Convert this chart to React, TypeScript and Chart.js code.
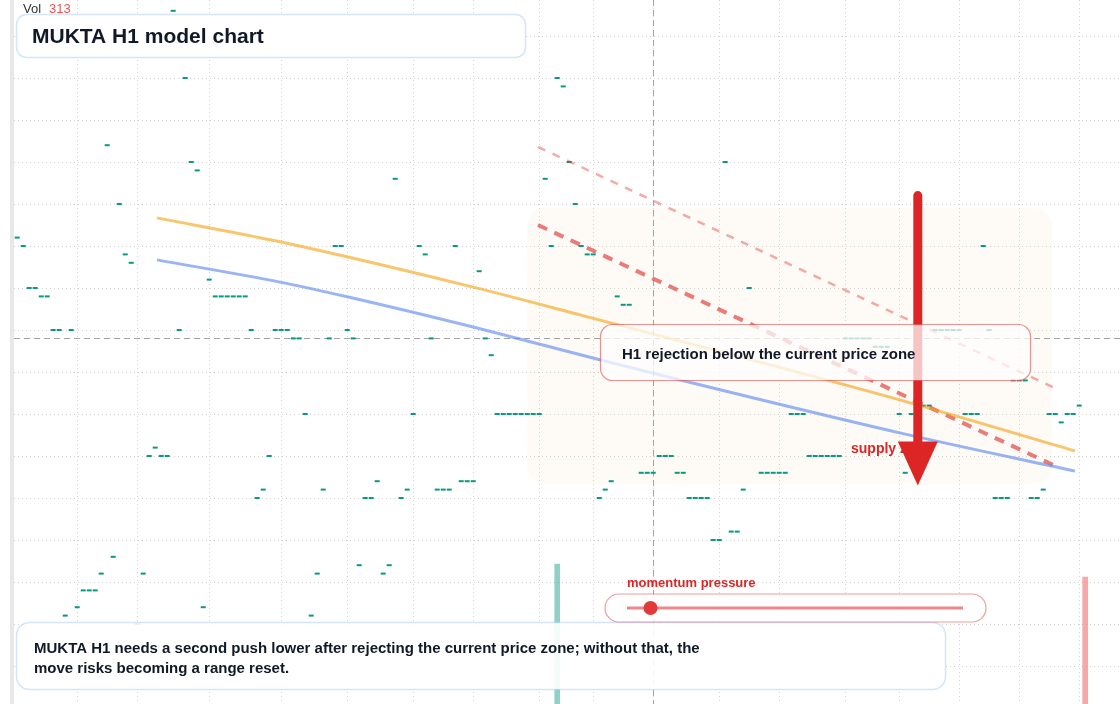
import React, { useEffect, useRef } from "react";
import { Chart, registerables } from "chart.js";

Chart.register(...registerables);

// ---------------- data ----------------
const TITLE = "MUKTA H1 model chart";
const REJECTION_TEXT = "H1 rejection below the current price zone";
const NOTE_LINES = [
  "MUKTA H1 needs a second push lower after rejecting the current price zone; without that, the",
  "move risks becoming a range reset.",
];
const ZONE_LABEL = "supply zone";
const MOMENTUM_LABEL = "momentum pressure";
const VOL_LABEL = "Vol";
const LAST_VOLUME = 313;

// candle index of the first body, then one flat body level per hourly candle
const CANDLE_START = 14;
const candleLevels: (number | null)[] = [
  15.2, 15.0, 14.0, 14.0, 13.8, 13.8, 13.0, 13.0, 6.2, 13.0,
  6.4, 6.8, 6.8, 6.8, 7.2, 17.4, 7.6, 16.0, 14.8, 14.6,
  6.0, 7.2, 10.0, 10.2, 10.0, 10.0, 20.6, 13.0, 19.0, 17.0,
  16.8, 6.4, 14.2, 13.8, 13.8, 13.8, 13.8, 13.8, 13.8, 13.0,
  9.0, 9.2, 10.0, 13.0, 13.0, 13.0, 12.8, 12.8, 11.0, 6.2,
  7.2, 9.2, 12.8, 15.0, 15.0, 13.0, 12.8, 7.4, 9.0, 9.0,
  9.4, 7.2, 7.4, 16.6, 9.0, 9.2, 11.0, 15.0, 14.8, 12.8,
  9.2, 9.2, 9.2, 15.0, 9.4, 9.4, 9.4, 14.4, 12.8, 12.4,
  11.0, 11.0, 11.0, 11.0, 11.0, 11.0, 11.0, 11.0, 16.6, 15.0,
  19.0, 18.8, 17.0, 16.0, 15.0, 14.8, 14.8, 9.0, 9.2, 9.4,
  13.8, 13.6, 13.6, null, 9.6, 9.6, 9.6, 10.0, 10.0, 10.0,
  9.6, 9.6, 9.0, 9.0, 9.0, 9.0, 8.0, 8.0, 17.0, 8.2,
  8.2, 9.2, 14.0, null, 9.6, 9.6, 9.6, 9.6, 9.6, 11.0,
  11.0, 11.0, 10.0, 10.0, 10.0, 10.0, 10.0, 10.0, 12.8, 12.8,
  12.8, 12.8, 12.8, 12.6, 12.6, 12.6, null, 11.0, 9.6, 11.0,
  null, 11.2, 11.2, 13.0, 13.0, 13.0, 13.0, 13.0, 11.0, 11.0,
  11.0, 15.0, 13.0, 9.0, 9.0, 9.0, 11.8, 11.8, 11.8, 9.0,
  9.0, 9.2, 11.0, 11.0, 10.8, 11.0, 11.0, 11.2,
];

const xGridTicks = [24, 34, 46, 58, 69, 80, 90, 101, 110, 120, 131, 141, 152, 161, 171, 181, 191];
const yGridTicks = [5, 6, 7, 8, 9, 10, 11, 12, 13, 14, 15, 16, 17, 18, 19, 20];

const fastX = [37.3, 57.8, 90, 107.8, 163, 190.3];
const fastY = [15.67, 15.1, 14.02, 13.36, 11.26, 10.12];
const slowX = [37.3, 57.8, 69, 90, 110.6, 124.5, 161.1, 190.3];
const slowY = [14.67, 14.14, 13.79, 13.07, 12.31, 11.81, 10.55, 9.64];

const channelX = [100.8, 186.6];
const channelLower = [15.5, 9.79];
const channelUpper = [17.36, 11.64];

const volumeX = [104, 192];
const volumeValues = [345, 313];
const volumeUp = [true, false];

const currentIndex = 120;
const currentPrice = 12.8;

const zoneX = [99, 186.5];
const zoneY = [9.33, 15.9];
const arrowX = 164.1;
const arrowY = [16.2, 9.3];
const momentumPressure = 0.07;

// ---------------- style / layout ----------------
const W = 1120;
const H = 704;
const PLOT_LEFT = 14;
const PX_PER_CANDLE = 6;
const CROSS_PX = 653.2;
const X_MIN = currentIndex - (CROSS_PX - PLOT_LEFT) / PX_PER_CANDLE;
const X_MAX = X_MIN + (W - PLOT_LEFT) / PX_PER_CANDLE;
const Y_MAX = 20 + 36 / 42;
const Y_MIN = 20 - 668 / 42;
const VOL_MAX = (LAST_VOLUME * H) / 127;

const FONT = '"Liberation Sans", Arial, Helvetica, sans-serif';
const DARK = "#111827";
const RED = "#dc2626";
const TEAL = "#089981";

function rr(ctx: CanvasRenderingContext2D, x: number, y: number, w: number, h: number, r: number) {
  ctx.beginPath();
  ctx.moveTo(x + r, y);
  ctx.lineTo(x + w - r, y);
  ctx.arcTo(x + w, y, x + w, y + r, r);
  ctx.lineTo(x + w, y + h - r);
  ctx.arcTo(x + w, y + h, x + w - r, y + h, r);
  ctx.lineTo(x + r, y + h);
  ctx.arcTo(x, y + h, x, y + h - r, r);
  ctx.lineTo(x, y + r);
  ctx.arcTo(x, y, x + r, y, r);
  ctx.closePath();
}

const overlayPlugin = {
  id: "overlay",
  beforeDatasetsDraw(chart: any) {
    const { ctx, chartArea } = chart;
    const xs = chart.scales.x;
    const ys = chart.scales.y;
    ctx.save();
    ctx.fillStyle = "#e8e8e8";
    ctx.fillRect(10, 0, 4, H);

    ctx.strokeStyle = "#d2d2d2";
    ctx.lineWidth = 1;
    ctx.setLineDash([1, 3]);
    for (const t of yGridTicks) {
      const py = Math.round(ys.getPixelForValue(t)) + 0.5;
      ctx.beginPath();
      ctx.moveTo(chartArea.left, py);
      ctx.lineTo(chartArea.right, py);
      ctx.stroke();
    }
    for (const t of xGridTicks) {
      const px = Math.round(xs.getPixelForValue(t)) + 0.5;
      ctx.beginPath();
      ctx.moveTo(px, 0);
      ctx.lineTo(px, H);
      ctx.stroke();
    }

    // supply zone
    const zx0 = xs.getPixelForValue(zoneX[0]);
    const zx1 = xs.getPixelForValue(zoneX[1]);
    const zy0 = ys.getPixelForValue(zoneY[1]);
    const zy1 = ys.getPixelForValue(zoneY[0]);
    ctx.setLineDash([]);
    ctx.fillStyle = "rgba(240, 200, 160, 0.09)";
    rr(ctx, zx0, zy0, zx1 - zx0, zy1 - zy0, 18);
    ctx.fill();

    // crosshair
    ctx.strokeStyle = "#a3a3a3";
    ctx.setLineDash([6, 4]);
    const cx = Math.round(xs.getPixelForValue(currentIndex)) + 0.5;
    const cy = Math.round(ys.getPixelForValue(currentPrice)) + 0.5;
    ctx.beginPath();
    ctx.moveTo(cx, 0);
    ctx.lineTo(cx, H);
    ctx.stroke();
    ctx.beginPath();
    ctx.moveTo(chartArea.left, cy);
    ctx.lineTo(chartArea.right, cy);
    ctx.stroke();
    ctx.restore();
  },
  afterDatasetsDraw(chart: any) {
    const { ctx } = chart;
    const xs = chart.scales.x;
    const ys = chart.scales.y;
    ctx.save();
    ctx.setLineDash([]);
    ctx.textAlign = "left";
    ctx.textBaseline = "middle";

    // zone label
    ctx.fillStyle = RED;
    ctx.font = `bold 14px ${FONT}`;
    ctx.fillText(ZONE_LABEL, 851, 449);

    // arrow
    const ax = xs.getPixelForValue(arrowX);
    const aTop = ys.getPixelForValue(arrowY[0]);
    const aTip = ys.getPixelForValue(arrowY[1]);
    const headLen = 44;
    ctx.strokeStyle = RED;
    ctx.lineWidth = 9;
    ctx.lineCap = "round";
    ctx.beginPath();
    ctx.moveTo(ax, aTop);
    ctx.lineTo(ax, aTip - headLen + 4);
    ctx.stroke();
    ctx.lineCap = "butt";
    ctx.fillStyle = RED;
    ctx.beginPath();
    ctx.moveTo(ax - 20, aTip - headLen);
    ctx.lineTo(ax + 20, aTip - headLen);
    ctx.lineTo(ax, aTip);
    ctx.closePath();
    ctx.fill();

    // rejection box
    rr(ctx, 600.5, 324.5, 430, 56, 12);
    ctx.fillStyle = "rgba(255,255,255,0.73)";
    ctx.fill();
    ctx.strokeStyle = "rgba(220,38,38,0.5)";
    ctx.lineWidth = 1.2;
    ctx.stroke();
    ctx.fillStyle = DARK;
    ctx.font = `bold 15px ${FONT}`;
    ctx.fillText(REJECTION_TEXT, 622, 354.5);

    // title box
    rr(ctx, 16.5, 14.5, 509, 43, 10);
    ctx.fillStyle = "rgba(255,255,255,0.94)";
    ctx.fill();
    ctx.strokeStyle = "rgba(147,187,245,0.4)";
    ctx.lineWidth = 1.5;
    ctx.stroke();
    ctx.fillStyle = DARK;
    ctx.font = `bold 21px ${FONT}`;
    ctx.fillText(TITLE, 32, 37);

    // volume label
    ctx.font = `13px ${FONT}`;
    ctx.fillStyle = "#333333";
    ctx.fillText(VOL_LABEL, 23, 9.5);
    ctx.fillStyle = "#ef5350";
    ctx.fillText(String(LAST_VOLUME), 49, 9.5);

    // bottom note
    rr(ctx, 16.5, 622.5, 929, 67, 13);
    ctx.fillStyle = "rgba(255,255,255,0.9)";
    ctx.fill();
    ctx.strokeStyle = "rgba(147,187,245,0.4)";
    ctx.lineWidth = 1.5;
    ctx.stroke();
    ctx.fillStyle = DARK;
    ctx.font = `bold 15px ${FONT}`;
    NOTE_LINES.forEach((l, i) => ctx.fillText(l, 34, 648.5 + i * 20));

    // momentum widget
    ctx.fillStyle = RED;
    ctx.font = `bold 13px ${FONT}`;
    ctx.fillText(MOMENTUM_LABEL, 627, 583);
    rr(ctx, 605, 594, 381, 28, 14);
    ctx.fillStyle = "rgba(255,255,255,0.85)";
    ctx.fill();
    ctx.strokeStyle = "rgba(220,38,38,0.45)";
    ctx.lineWidth = 1.2;
    ctx.stroke();
    const t0 = 627;
    const t1 = 963;
    ctx.strokeStyle = "rgba(220,38,38,0.55)";
    ctx.lineWidth = 3;
    ctx.beginPath();
    ctx.moveTo(t0, 608);
    ctx.lineTo(t1, 608);
    ctx.stroke();
    ctx.fillStyle = "#e03a3a";
    ctx.beginPath();
    ctx.arc(t0 + (t1 - t0) * momentumPressure, 608, 7, 0, Math.PI * 2);
    ctx.fill();
    ctx.restore();
  },
};

export default function App() {
  const ref = useRef<HTMLCanvasElement>(null);
  useEffect(() => {
    const candles = candleLevels
      .map((v, i) => ({ x: CANDLE_START + i, y: v }))
      .filter((p) => p.y !== null);
    const chart = new Chart(ref.current as HTMLCanvasElement, {
      type: "line",
      data: {
        datasets: [
          {
            type: "line",
            data: fastX.map((x, i) => ({ x, y: fastY[i] })),
            borderColor: "rgba(245,158,11,0.6)",
            borderWidth: 3,
            pointRadius: 0,
            cubicInterpolationMode: "monotone",
            order: 1,
          },
          {
            type: "line",
            data: slowX.map((x, i) => ({ x, y: slowY[i] })),
            borderColor: "rgba(100,140,240,0.65)",
            borderWidth: 3,
            pointRadius: 0,
            cubicInterpolationMode: "monotone",
            order: 2,
          },
          {
            type: "line",
            data: channelX.map((x, i) => ({ x, y: channelLower[i] })),
            borderColor: "rgba(220,38,38,0.6)",
            borderWidth: 4,
            borderDash: [10, 8],
            pointRadius: 0,
            order: 3,
          },
          {
            type: "line",
            data: channelX.map((x, i) => ({ x, y: channelUpper[i] })),
            borderColor: "rgba(220,38,38,0.38)",
            borderWidth: 2.5,
            borderDash: [8, 8],
            pointRadius: 0,
            order: 4,
          },
          {
            type: "line",
            data: candles as any,
            showLine: false,
            pointStyle: "line",
            pointRadius: 2.5,
            pointBorderWidth: 2,
            pointBorderColor: TEAL,
            borderColor: TEAL,
            order: 5,
          },
          {
            type: "bar",
            yAxisID: "yVol",
            data: volumeX.map((x, i) => ({ x, y: volumeValues[i] })) as any,
            backgroundColor: volumeUp.map((u) => (u ? "rgba(8,153,129,0.45)" : "rgba(239,83,80,0.5)")),
            barThickness: 5,
            grouped: false,
            order: 6,
          } as any,
        ],
      },
      options: {
        animation: false,
        responsive: false,
        devicePixelRatio: 1,
        events: [],
        layout: { autoPadding: false, padding: { left: PLOT_LEFT, right: 0, top: 0, bottom: 0 } },
        plugins: { legend: { display: false }, tooltip: { enabled: false } },
        scales: {
          x: { type: "linear", display: false, min: X_MIN, max: X_MAX, offset: false },
          y: { type: "linear", display: false, min: Y_MIN, max: Y_MAX },
          yVol: { type: "linear", display: false, min: 0, max: VOL_MAX },
        },
      } as any,
      plugins: [overlayPlugin],
    });
    return () => chart.destroy();
  }, []);
  return (
    <div style={{ position: "fixed", left: 0, top: 0, width: W, height: H, background: "#fff" }}>
      <canvas ref={ref} width={W} height={H} style={{ display: "block", width: W, height: H }} />
    </div>
  );
}
